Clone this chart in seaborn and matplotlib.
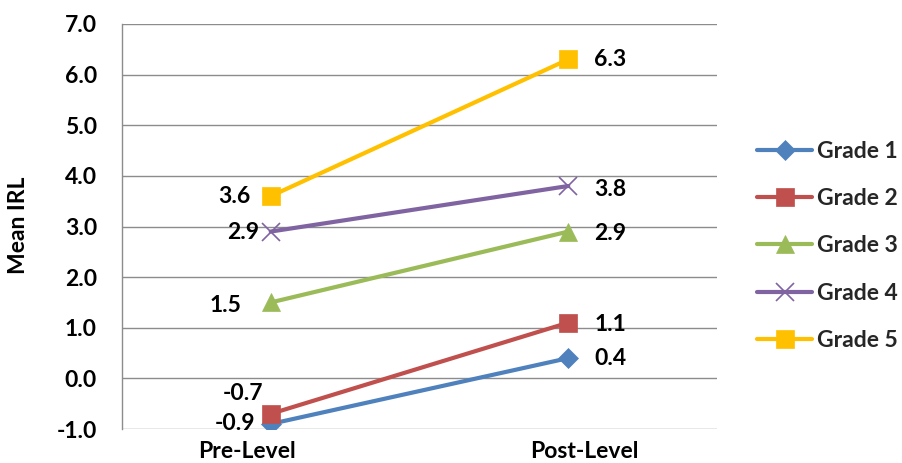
import matplotlib
matplotlib.use("Agg")
import matplotlib.pyplot as plt
import matplotlib.transforms as mtransforms
import pandas as pd
import seaborn as sns

# Mean IRL per grade, before and after
phases = ["Pre-Level", "Post-Level"]
grades = ["Grade 1", "Grade 2", "Grade 3", "Grade 4", "Grade 5"]
grade1 = [-0.9, 0.4]
grade2 = [-0.7, 1.1]
grade3 = [1.5, 2.9]
grade4 = [2.9, 3.8]
grade5 = [3.6, 6.3]
series = [grade1, grade2, grade3, grade4, grade5]
y_ticks = [-1.0, 0.0, 1.0, 2.0, 3.0, 4.0, 5.0, 6.0, 7.0]

colors = ["#4F81BD", "#C0504D", "#9BBB59", "#8064A2", "#FFC000"]
markers = ["D", "s", "^", "x", "s"]
msizes = [10, 13, 13, 13, 13]

FS = 16.5

# Offsets (pixels) for the value labels at each phase
pre_offsets = [(-16, 0), (-7, 20), (-29, -3), (-12, -1), (-20, 0)]
post_offsets = [(26, 0), (26, -2), (26, -2), (26, -3), (26, 0)]

sns.set_theme(style="white")
plt.rcParams["font.family"] = ["Lato", "DejaVu Sans"]
plt.rcParams["font.weight"] = "bold"

fig = plt.figure(figsize=(9.02, 4.63), dpi=100)
ax = fig.add_axes([122 / 902, 1 - 429 / 463, (717 - 122) / 902, (429 - 24) / 463])

for g, vals, c, m, ms in zip(grades, series, colors, markers, msizes):
    df = pd.DataFrame({"Phase": phases, "IRL": vals})
    sns.lineplot(data=df, x="Phase", y="IRL", ax=ax, sort=False, color=c,
                 linewidth=3, marker=m, markersize=ms, markeredgecolor=c,
                 markerfacecolor=c, markeredgewidth=1.2 if m == "x" else 0.5,
                 label=g, legend=False)

for vals, po, qo in zip(series, pre_offsets, post_offsets):
    ax.annotate(f"{vals[0]:.1f}", (0, vals[0]), xytext=po, textcoords="offset pixels",
                ha="right", va="center", fontsize=FS, fontweight="bold", color="black")
    ax.annotate(f"{vals[1]:.1f}", (1, vals[1]), xytext=qo, textcoords="offset pixels",
                ha="left", va="center", fontsize=FS, fontweight="bold", color="black")

ax.set_xlim(-0.5, 1.5)
ax.set_ylim(-1.0, 7.0)
ax.set_yticks(y_ticks)
ax.set_yticklabels([f"{v:.1f}" for v in y_ticks])
ax.grid(axis="y", color="#8C8C8C", linewidth=1)
ax.grid(axis="x", visible=False)
for s in ["top", "right", "bottom"]:
    ax.spines[s].set_visible(False)
ax.spines["left"].set_color("#8C8C8C")
ax.spines["left"].set_linewidth(1)
ax.tick_params(axis="y", length=0, pad=18, labelsize=FS)
ax.tick_params(axis="x", length=0, pad=9, labelsize=FS)
for lab in ax.get_yticklabels() + ax.get_xticklabels():
    lab.set_fontweight("bold")
    lab.set_color("black")

shifts = [-24, 16]
for lab, dx in zip(ax.get_xticklabels(), shifts):
    lab.set_transform(lab.get_transform() + mtransforms.ScaledTranslation(dx / 100, 0, fig.dpi_scale_trans))

ax.set_xlabel("")
ax.set_ylabel("")
fig.text(19 / 902, 1 - 225 / 463, "Mean IRL", rotation=90, ha="center", va="center",
         fontsize=FS, fontweight="bold", color="black")

handles = ax.get_lines()[: len(grades)]
fig.legend(handles, grades, loc="center left", bbox_to_anchor=(757 / 902, 1 - 246 / 463),
           frameon=False, borderpad=0, borderaxespad=0, handlelength=2.4,
           handletextpad=0.2, labelspacing=1.15,
           prop={"weight": "bold", "size": FS})

fig.savefig("out.png", dpi=100)
